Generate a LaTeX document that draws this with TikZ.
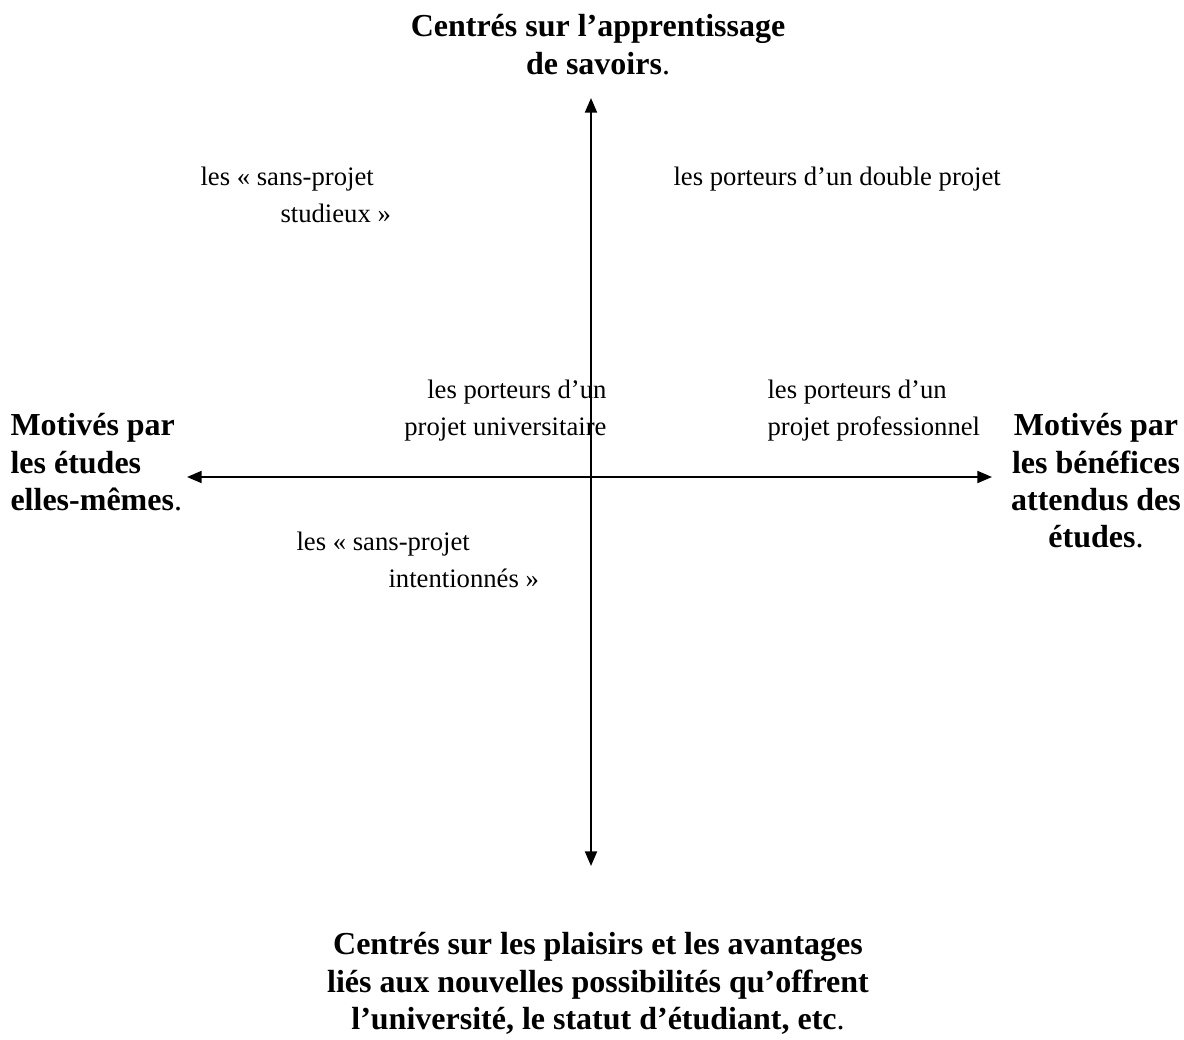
\documentclass[tikz,border=0pt]{standalone}
\usepackage{fontspec}
\setmainfont{Liberation Serif}
\usetikzlibrary{arrows.meta}
\begin{document}
\begin{tikzpicture}[x=0.375pt,y=-0.375pt]
  \tikzstyle{axis}=[line width=0.75pt, {Triangle[length=5.5pt,width=4.5pt]}-{Triangle[length=5.5pt,width=4.5pt]}]
  \tikzstyle{pole}=[font=\fontsize{12}{14}\selectfont\bfseries, align=center, inner sep=0pt]
  \tikzstyle{group}=[font=\fontsize{10}{14}\selectfont, align=left, inner sep=0pt]
  \useasboundingbox (0,0) rectangle (1184,1039);

  % Axis ends
  \coordinate (top) at (591,98);
  \coordinate (bottom) at (591,866);
  \coordinate (left) at (187,477);
  \coordinate (right) at (992,477);

  % Poles
  \node[pole, anchor=north] (savoirs) at (598,14) {Centrés sur l’apprentissage\\de savoirs\textmd{.}};
  \node[pole, anchor=north] (plaisirs) at (598,932) {Centrés sur les plaisirs et les avantages\\liés aux nouvelles possibilités qu’offrent\\l’université, le statut d’étudiant, etc\textmd{.}};
  \node[pole, anchor=north west, align=left] (etudes) at (10,413) {Motivés par\\les études\\elles-mêmes\textmd{.}};
  \node[pole, anchor=north] (benefices) at (1096,413) {Motivés par\\les bénéfices\\attendus des\\études\textmd{.}};

  % Groups
  \node[group, anchor=north west] (studieux) at (200,166) {les « sans-projet\\\hspace*{30pt}studieux »};
  \node[group, anchor=north west] (double) at (673,166) {les porteurs d’un double projet};
  \node[group, anchor=north east, align=right] (univ) at (607,379) {les porteurs d’un\\projet universitaire};
  \node[group, anchor=north west] (pro) at (767,379) {les porteurs d’un\\projet professionnel};
  \node[group, anchor=north west] (intention) at (296,531) {les « sans-projet\\\hspace*{34.5pt}intentionnés »};

  % Axes
  \draw[axis] (bottom) -- (top);
  \draw[axis] (left) -- (right);
\end{tikzpicture}
\end{document}
